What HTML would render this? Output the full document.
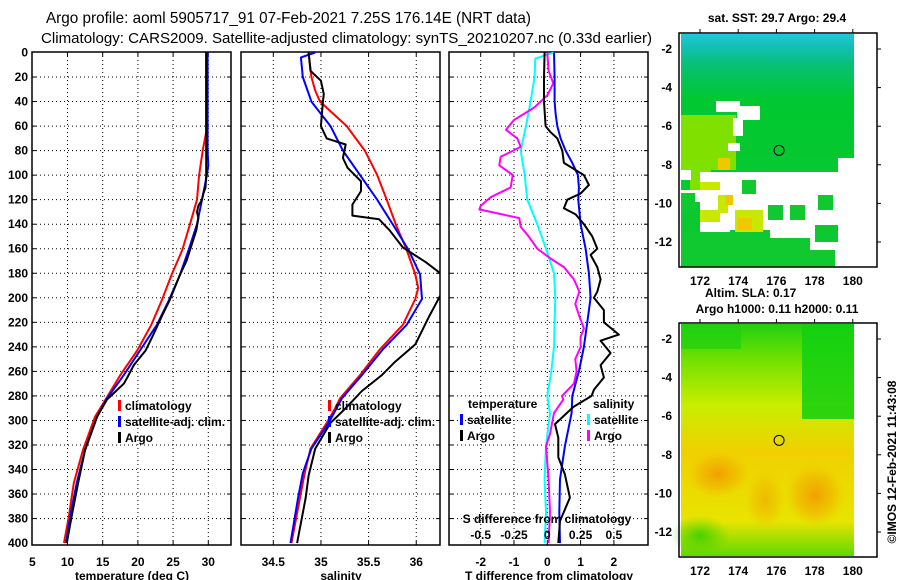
<!DOCTYPE html>
<html><head><meta charset="utf-8"><style>
html,body{margin:0;padding:0;background:#fff;}
svg{display:block;font-family:"Liberation Sans",sans-serif;}
.b{font-weight:bold;font-size:12px;}
</style></head><body>
<svg id="chart" width="900" height="580" viewBox="0 0 900 580" xmlns="http://www.w3.org/2000/svg">
<defs>
<clipPath id="c1"><rect x="32" y="52" width="199" height="493"/></clipPath>
<clipPath id="c2"><rect x="241" y="52" width="199" height="493"/></clipPath>
<clipPath id="c3"><rect x="449" y="52" width="199" height="493"/></clipPath>
<linearGradient id="sstg" x1="0" y1="0" x2="0" y2="1">
<stop offset="0" stop-color="#20c8d8"/><stop offset="0.06" stop-color="#10c0b0"/><stop offset="0.14" stop-color="#08c070"/><stop offset="0.28" stop-color="#00c830"/><stop offset="1" stop-color="#10c830"/>
</linearGradient>
<linearGradient id="slag" x1="0" y1="0" x2="0" y2="1">
<stop offset="0" stop-color="#20d010"/><stop offset="0.15" stop-color="#70e000"/><stop offset="0.35" stop-color="#c8ee00"/><stop offset="0.55" stop-color="#f0d000"/><stop offset="0.85" stop-color="#e8e400"/><stop offset="1" stop-color="#60d800"/>
</linearGradient>
<radialGradient id="blob"><stop offset="0" stop-color="#f0a000"/><stop offset="0.6" stop-color="#f0b800" stop-opacity="0.7"/><stop offset="1" stop-color="#f0c800" stop-opacity="0"/></radialGradient>
<radialGradient id="gblob"><stop offset="0" stop-color="#00c800"/><stop offset="1" stop-color="#30d000" stop-opacity="0"/></radialGradient>
</defs>
<text x="46" y="23" font-size="16" textLength="485" lengthAdjust="spacingAndGlyphs">Argo profile: aoml 5905717_91 07-Feb-2021 7.25S 176.14E (NRT data)</text>
<text x="41" y="43" font-size="15" textLength="611" lengthAdjust="spacingAndGlyphs">Climatology: CARS2009. Satellite-adjusted climatology: synTS_20210207.nc (0.33d earlier)</text>
<g id="panels"></g>
<g id="maps"></g>
<text class="b" transform="translate(896,462) rotate(-90)" text-anchor="middle" font-weight="normal" font-size="12">©IMOS 12-Feb-2021 11:43:08</text>
</svg>
<script>
// ---- data ----
const depthTicks = [0,20,40,60,80,100,120,140,160,180,200,220,240,260,280,300,320,340,360,380,400];
const tTicks = [5,10,15,20,25,30];
const sTicks = [34.5,35,35.5,36];
const sTickLabels = ["34.5","35","35.5","36"];
const dTTicks = [-2,-1,0,1,2];
const dSTicks = [-0.5,-0.25,0,0.25,0.5];
const dSTickLabels = ["-0.5","-0.25","0","0.25","0.5"];

const tClimDepth = [0,65,80,100,120,140,161,181,202,222,243,263,283,297,324,351,378,400];
const tClimVal   = [29.7,29.7,29.2,28.7,28.4,27.4,26.3,24.8,23.4,21.9,19.9,17.5,15.4,13.9,12.2,10.9,10.2,9.5];
const tSatDepth  = [0,80,92,100,120,140,161,181,202,222,243,263,283,297,324,351,378,400];
const tSatVal    = [29.9,29.9,30.0,29.8,29.1,28.4,27.2,26.0,24.4,22.7,20.3,18.0,15.5,14.2,12.5,11.3,10.4,9.8];
const tArgoDepth = [0,100,110,115,120,125,130,135,145,161,170,181,202,215,230,243,255,265,270,283,297,324,351,378,400];
const tArgoVal   = [29.7,29.7,29.6,29.3,29.1,28.6,28.4,28.6,28.3,27.4,26.9,26.0,24.5,23.4,22.2,21.1,19.4,18.5,18.0,15.6,14.2,12.5,11.5,10.6,9.9];

const sClimDepth = [0,20,31,40,60,80,100,120,141,161,181,192,201,222,242,263,282,290,302,323,343,363,384,400];
const sClimVal   = [34.87,34.90,34.94,34.99,35.27,35.46,35.59,35.69,35.79,35.90,35.99,36.02,35.99,35.86,35.62,35.41,35.20,35.15,35.06,34.89,34.83,34.78,34.73,34.69];
const sSatDepth  = [0,4,20,40,60,80,100,120,141,161,181,201,222,242,263,282,302,323,343,363,400];
const sSatVal    = [34.94,34.79,34.81,34.90,35.10,35.23,35.41,35.59,35.76,35.92,36.04,36.06,35.90,35.65,35.43,35.22,35.08,34.90,34.81,34.76,34.68];
const sArgoDepth = [0,15,23,34,40,60,70,75,86,94,105,113,124,133,136,145,159,171,181,192,200,216,238,252,263,276,290,302,323,345,363,400];
const sArgoVal   = [34.87,34.89,35.00,35.03,35.02,35.00,35.06,35.26,35.23,35.28,35.42,35.42,35.33,35.33,35.61,35.72,35.86,36.10,36.27,36.30,36.24,36.13,35.99,35.78,35.64,35.43,35.26,35.10,34.94,34.87,34.84,34.75];

const dTSatDepth = [0,20,40,50,60,70,80,90,100,110,120,140,160,180,200,220,240,260,280,294,321,348,375,400];
const dTSatVal   = [0.2,0.22,0.22,0.25,0.3,0.4,0.55,0.75,0.92,0.95,0.93,1.0,1.15,1.25,1.3,1.2,1.1,0.95,0.75,0.73,0.53,0.38,0.36,0.38];
const dTArgoDepth = [0,20,40,60,65,70,80,90,95,100,108,115,120,127,132,140,150,160,165,175,185,195,200,210,220,230,235,245,255,265,275,280,289,303,314,330,344,363,382,400];
const dTArgoVal   = [-0.08,-0.1,-0.1,-0.05,0.1,0.3,0.45,0.5,0.8,1.1,1.25,1.0,0.6,0.5,0.85,1.1,1.35,1.5,1.3,1.5,1.6,1.5,1.4,1.7,1.7,2.15,1.6,1.9,1.6,1.7,1.4,1.33,0.78,0.23,0.33,0.33,0.53,0.68,0.38,0.33];
const dSSatDepth = [0,5,20,40,60,80,100,120,140,160,180,200,220,240,260,280,294,321,348,375,400];
const dSSatVal   = [0.05,-0.09,-0.095,-0.125,-0.16,-0.2,-0.17,-0.15,-0.075,-0.01,0.05,0.06,0.055,0.05,0.03,0.0,0.02,-0.01,-0.02,-0.01,-0.02];
const dSArgoDepth = [0,15,25,35,45,55,63,70,77,85,92,100,110,118,125,128,130,135,142,150,160,168,175,185,195,205,215,225,232,240,250,260,270,280,283,294,311,321,348,375,400];
const dSArgoVal   = [0,0.01,0.045,0,-0.1,-0.25,-0.31,-0.225,-0.2,-0.35,-0.36,-0.26,-0.275,-0.425,-0.5,-0.51,-0.425,-0.21,-0.2,-0.14,-0.075,0.025,0.125,0.2,0.24,0.21,0.24,0.275,0.25,0.25,0.21,0.22,0.2,0.11,0.12,0.05,0.02,-0.01,0.01,0.02,0.01];

const mapLonTicks = [172,174,176,178,180];
const mapLatTicks = [-2,-4,-6,-8,-10,-12];
const argoLon = 176.14, argoLat = -7.25;

// ---- axes ----
const yD = d => 52.5 + d*1.2265;
const x1 = t => 32.3 + (t-5)*7.04;
const x2 = s => 273.3 + (s-34.5)*95.3;
const x3 = t => 547.3 + t*33.3;
const x3s = s => x3(s*4);

const NS = "http://www.w3.org/2000/svg";
function mk(tag, attrs, parent){ const e=document.createElementNS(NS,tag); for(const k in attrs) e.setAttribute(k,attrs[k]); parent.appendChild(e); return e; }
const P = document.getElementById('panels');

function panel(name, left, clip, xfun, xt, xtl, xlabel){
  const g = mk('g',{},P);
  
  
  const right = left+199;
  depthTicks.forEach(d=>{ if(d>0 && d<400){
    const l = mk('line',{x1:left,x2:right,y1:yD(d),y2:yD(d),stroke:'#000','stroke-width':1,'stroke-dasharray':'1 3'},g);
    
    
    mk('line',{x1:left,x2:left+4,y1:yD(d),y2:yD(d),stroke:'#000'},g);
    mk('line',{x1:right-4,x2:right,y1:yD(d),y2:yD(d),stroke:'#000'},g);
  }});
  xt.forEach((v,i)=>{
    const x = xfun(v);
    if(x>left+1 && x<right-1){
      const l = mk('line',{x1:x,x2:x,y1:52,y2:545,stroke:'#000','stroke-width':1,'stroke-dasharray':'1 3'},g);
      
      
      mk('line',{x1:x,x2:x,y1:52,y2:56,stroke:'#000'},g);
      mk('line',{x1:x,x2:x,y1:541,y2:545,stroke:'#000'},g);
    }
    const t = mk('text',{x:x,y:566,'text-anchor':'middle','class':'b'},g);
    
    
    t.textContent = xtl[i];
  });
  const r = mk('rect',{x:left,y:52,width:199,height:493,fill:'none',stroke:'#000','stroke-width':1.5},g);
  
  
  const xl = mk('text',{x:left+100,y:580,'text-anchor':'middle','class':'b'},g);
  
  
  xl.textContent = xlabel;
  return g;
}
function series(g, clip, xfun, depths, vals, color, name){
  const pts = depths.map((d,i)=>xfun(vals[i]).toFixed(1)+','+yD(d).toFixed(1)).join(' ');
  const pl = mk('polyline',{points:pts,fill:'none',stroke:color,'stroke-width':2,'stroke-linejoin':'round','clip-path':'url(#'+clip+')'},g);
  
  
}
function legend(g, x, y, color, label){
  mk('rect',{x:x,y:y-10,width:3,height:11,fill:color},g);
  const t = mk('text',{x:x+7,y:y,'class':'b'},g);
  
  
  t.textContent = label;
}

// y tick labels
depthTicks.forEach(d=>{
  const t = mk('text',{x:28,y:yD(d)+4,'text-anchor':'end','class':'b'},P);
  
  
  t.textContent = d;
});

const g1 = panel('temperature-panel',32,'c1',x1,tTicks,tTicks.map(String),'temperature (deg C)');
series(g1,'c1',x1,tClimDepth,tClimVal,'#f00','temp-climatology-line');
series(g1,'c1',x1,tSatDepth,tSatVal,'#00f','temp-satellite-line');
series(g1,'c1',x1,tArgoDepth,tArgoVal,'#000','temp-argo-line');
legend(g1,118,410,'#f00','climatology');
legend(g1,118,426,'#00f','satellite-adj. clim.');
legend(g1,118,442,'#000','Argo');

const g2 = panel('salinity-panel',241,'c2',x2,sTicks,sTickLabels,'salinity');
series(g2,'c2',x2,sClimDepth,sClimVal,'#f00','sal-climatology-line');
series(g2,'c2',x2,sSatDepth,sSatVal,'#00f','sal-satellite-line');
series(g2,'c2',x2,sArgoDepth,sArgoVal,'#000','sal-argo-line');
legend(g2,328,410,'#f00','climatology');
legend(g2,328,426,'#00f','satellite-adj. clim.');
legend(g2,328,442,'#000','Argo');

const g3 = panel('difference-panel',449,'c3',x3,dTTicks,dTTicks.map(String),'T difference from climatology');
series(g3,'c3',x3s,dSSatDepth,dSSatVal,'#0ff','sdiff-satellite-line');
series(g3,'c3',x3s,dSArgoDepth,dSArgoVal,'#f0f','sdiff-argo-line');
series(g3,'c3',x3,dTSatDepth,dTSatVal,'#00f','tdiff-satellite-line');
series(g3,'c3',x3,dTArgoDepth,dTArgoVal,'#000','tdiff-argo-line');
{
  const t = mk('text',{x:468,y:408,'class':'b'},g3); t.textContent='temperature';
   
  const s = mk('text',{x:593,y:408,'class':'b'},g3); s.textContent='salinity';
   
  legend(g3,460,424,'#00f','satellite');
  legend(g3,460,440,'#000','Argo');
  legend(g3,587,424,'#0ff','satellite');
  legend(g3,587,440,'#f0f','Argo');
  const sl = mk('text',{x:547,y:523,'text-anchor':'middle','class':'b'},g3); sl.textContent='S difference from climatology';
   
  dSTicks.forEach((v,i)=>{
    const tt = mk('text',{x:x3s(v),y:539,'text-anchor':'middle','class':'b'},g3);
    
    
    tt.textContent = dSTickLabels[i];
  });
}

// ---- maps ----
const M = document.getElementById('maps');
function map(name, top, bottom, fill, extra){
  const g = mk('g',{},M);
  
  
  const lonX = lon => 700 + (lon-172)*19.1;
  const latY = lat => top + 16 + (lat+2)*(-19.3);
  mk('rect',{x:681,y:top+1,width:173,height:bottom-top-2,fill:fill},g);
  extra(g);
  mk('circle',{cx:lonX(argoLon),cy:latY(argoLat),r:5,fill:'none',stroke:'#000','stroke-width':1},g);
  const fr = mk('rect',{x:679,y:top,width:198,height:bottom-top,fill:'none',stroke:'#000','stroke-width':1.5},g);
   
  mapLonTicks.forEach(l=>{
    const x=lonX(l);
    mk('line',{x1:x,x2:x,y1:top-4,y2:top,stroke:'#000'},g);
    const t = mk('text',{x:x,y:bottom+18,'text-anchor':'middle','class':'b'},g);
     
    t.textContent = l;
  });
  mapLatTicks.forEach(l=>{
    const y=latY(l);
    mk('line',{x1:877,x2:881,y1:y,y2:y,stroke:'#000'},g);
    const t = mk('text',{x:672,y:y+4,'text-anchor':'end','class':'b'},g);
     
    t.textContent = l;
  });
}
map('sst-map',33,267,'url(#sstg)',g=>{
  [[681,115,55,55],[681,165,30,15],[690,178,60,12]].forEach(r=>mk('rect',{x:r[0],y:r[1],width:r[2],height:r[3],fill:'#80e000'},g));
  [[716,101,24,11],[737,106,23,14],[733,118,10,18],[728,143,12,8],[681,170,10,10],[700,172,70,58],[770,172,85,10],[770,182,45,60],[815,175,25,50],[838,158,16,110],[805,242,50,25],[681,190,19,12],[700,230,30,10]].forEach(r=>mk('rect',{x:r[0],y:r[1],width:r[2],height:r[3],fill:'#fff'},g));
  [[681,232,70,35],[750,238,60,29],[810,250,25,17],[768,205,15,15],[790,205,15,15],[818,195,15,15],[742,180,14,14],[681,193,14,18]].forEach(r=>mk('rect',{x:r[0],y:r[1],width:r[2],height:r[3],fill:'#10c830'},g));
  [[700,182,20,8],[718,195,10,18],[735,210,28,22],[700,210,20,12]].forEach(r=>mk('rect',{x:r[0],y:r[1],width:r[2],height:r[3],fill:'#c8e800'},g));
  [[718,158,12,12],[725,195,8,10],[738,218,14,12]].forEach(r=>mk('rect',{x:r[0],y:r[1],width:r[2],height:r[3],fill:'#f0c800'},g));
});
map('sla-map',323,557,'url(#slag)',g=>{
  mk('rect',{x:802,y:324,width:52,height:95,fill:'#10d010','opacity':0.85},g);
  mk('rect',{x:681,y:324,width:60,height:25,fill:'#20d010','opacity':0.7},g);
  mk('ellipse',{cx:718,cy:474,rx:32,ry:24,fill:'url(#blob)'},g);
  mk('ellipse',{cx:815,cy:495,rx:30,ry:32,fill:'url(#blob)'},g);
  mk('ellipse',{cx:765,cy:500,rx:20,ry:30,fill:'url(#blob)','opacity':0.6},g);
  mk('ellipse',{cx:700,cy:535,rx:30,ry:20,fill:'url(#gblob)','opacity':0.6},g);
});
const mt = [[777,22,'sat. SST: 29.7 Argo: 29.4','sst-map-title','middle'],[705,297,'Altim. SLA: 0.17','sla-title','start'],[777,313,'Argo h1000: 0.11 h2000: 0.11','sla-argo-title','middle']];
mt.forEach(m=>{
  const t = mk('text',{x:m[0],y:m[1],'text-anchor':m[4],'class':'b'},M);
  
  
  t.textContent = m[2];
});
</script>
</body></html>
